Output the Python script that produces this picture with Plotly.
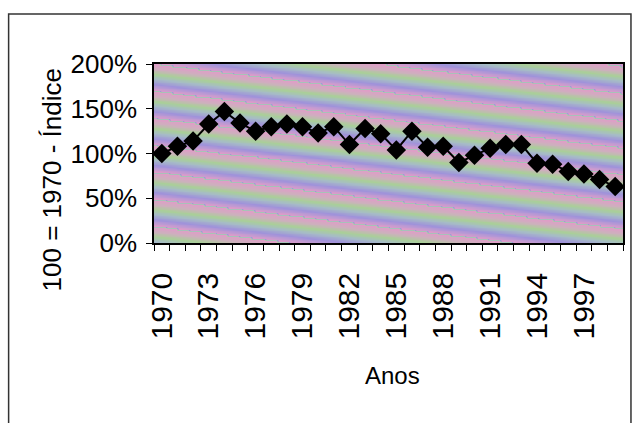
import numpy as np
import plotly.graph_objects as go

# Index series, 1970 = 100%
years = list(range(1970, 2000))
index_pct = [100, 108, 114, 133, 147, 134, 125, 130, 133, 130,
             123, 130, 110, 128, 122, 104, 125, 107, 108, 90,
             98, 106, 110, 110, 89, 88, 80, 77, 71, 63]

label_years = [1970, 1973, 1976, 1979, 1982, 1985, 1988, 1991, 1994, 1997]
y_ticks = [0, 50, 100, 150, 200]
y_tick_text = ["0%", "50%", "100%", "150%", "200%"]

W, H = 637, 423
L, R, T, B = 154, 12, 64, 180
pw, ph = W - L - R, H - T - B
font_family = "Liberation Sans, Arial, sans-serif"


def px_x(p):
    return (p - L) / pw


def px_y(p):
    return (T + ph - p) / ph


fig = go.Figure()

# Banded pastel fill behind the plot area (stripes falling gently to the right)
nx, ny = 160, 120
xe = np.linspace(1969.5, 1999.5, nx + 1)
ye = np.linspace(0, 200, ny + 1)
xc = (xe[:-1] + xe[1:]) / 2
yc = (ye[:-1] + ye[1:]) / 2
XC, YC = np.meshgrid(xc, yc)
xpix = (XC - 1969.5) / 30 * pw
ytop = (200 - YC) / 200 * ph
band = (ytop - 0.12 * xpix) / 27.0
band = band - np.floor(band)
fig.add_trace(go.Heatmap(
    x=xe, y=ye, z=band,
    colorscale=[[0.0, "#e09cc8"], [0.2, "#cdb0bd"], [0.38, "#a9cf98"],
                [0.55, "#a6bcc6"], [0.75, "#9f92da"], [0.88, "#c09ad2"],
                [1.0, "#e09cc8"]],
    showscale=False, hoverinfo="skip", zsmooth="best",
))

fig.add_trace(go.Scatter(
    x=years, y=index_pct, mode="lines+markers",
    line=dict(color="black", width=2),
    marker=dict(symbol="diamond", size=15, color="black"),
    showlegend=False,
))

fig.update_layout(
    width=W, height=H,
    margin=dict(l=L, r=R, t=T, b=B),
    paper_bgcolor="white",
    plot_bgcolor="white",
    font=dict(family=font_family, color="black"),
    xaxis=dict(
        range=[1969.5, 1999.5], tickmode="array", tickvals=label_years,
        ticktext=[str(y) for y in label_years], tickangle=-90,
        ticks="", tickfont=dict(size=30), showgrid=False, zeroline=False,
        showline=True, linecolor="black", linewidth=1.5, mirror=True,
        minor=dict(tickmode="array", tickvals=[y - 0.5 for y in years] + [1999.5],
                   ticks="outside", ticklen=6, tickcolor="black", showgrid=False),
        ticklabelstandoff=16,
    ),
    yaxis=dict(
        range=[0, 200], tickmode="array", tickvals=y_ticks, ticktext=y_tick_text,
        ticks="outside", ticklen=6, tickcolor="black", tickfont=dict(size=26),
        showgrid=False, zeroline=False,
        showline=True, linecolor="black", linewidth=1.5, mirror=True,
        ticklabelstandoff=4,
    ),
    annotations=[
        dict(text="Anos", xref="paper", yref="paper", x=px_x(394), y=px_y(375),
             xanchor="center", yanchor="middle", showarrow=False,
             font=dict(size=24)),
        dict(text="100 = 1970 - Índice", xref="paper", yref="paper",
             x=px_x(52), y=px_y(180), textangle=-90,
             xanchor="center", yanchor="middle", showarrow=False,
             font=dict(size=26)),
    ],
)

# Outer frame around the chart
fig.add_shape(type="rect", xref="paper", yref="paper",
              x0=px_x(8), x1=px_x(633), y0=px_y(H + 5), y1=px_y(14),
              line=dict(color="#333333", width=1.5), layer="below")

fig.write_html("out.html")
